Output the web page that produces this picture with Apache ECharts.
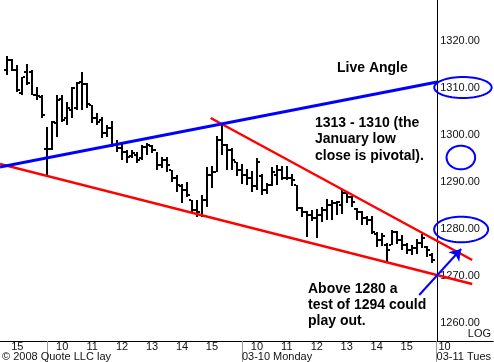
<!DOCTYPE html>
<html><head><meta charset="utf-8">
<script src="https://cdn.jsdelivr.net/npm/echarts@6/dist/echarts.min.js"></script>
<style>html,body{margin:0;padding:0;background:#fff}#c{width:494px;height:362px}</style>
</head><body><div id="c"></div>
<script>
// ---- sessions (10-minute bars) ----
const sessionDay = [-1, 0, 1];               // trading-day index relative to 03-07
const sessionFirstBar = ['14:40', '09:30', '09:30'];
const sessionBarCount = [8, 39, 39];

// ---- OHLC values ----
const barOpen = [
  1313.7,1315.9,1313.7,1308.8,1313.3,1313.3,1308.4,1308.0,
  1296.9,1296.9,1302.5,1307.6,1303.5,1305.2,1305.6,1311.2,1310.7,1306.3,1303.5,1303.1,1300.3,1301.4,1297.8,1297.1,1296.3,1295.4,1295.6,1295.0,1297.3,1297.6,1296.7,1293.5,1294.6,1292.4,1290.7,1289.0,1288.2,1286.1,1283.9,1282.9,1286.1,1291.4,1292.0,1298.8,1297.8,1296.7,1294.2,
  1292.4,1291.4,1290.7,1289.0,1291.2,1288.2,1289.3,1291.4,1292.4,1290.7,1290.7,1289.3,1284.4,1283.5,1282.9,1282.2,1282.9,1283.9,1285.0,1285.4,1285.0,1287.6,1286.7,1284.2,1283.5,1282.2,1281.8,1278.8,1277.6,1276.5,1276.5,1279.3,1277.6,1276.5,1275.4,1275.9,1276.9,1276.1,1274.4
];
const barHigh = [
  1316.7,1316.1,1314.8,1312.2,1315.0,1313.7,1310.1,1308.4,
  1301.6,1302.9,1308.4,1308.4,1306.9,1310.1,1311.2,1313.3,1311.0,1306.3,1304.6,1303.7,1302.0,1302.9,1298.8,1298.2,1296.7,1296.7,1296.3,1297.8,1298.2,1297.8,1296.3,1295.2,1295.2,1292.4,1291.4,1289.5,1289.9,1286.1,1286.1,1287.1,1293.1,1293.3,1299.7,1302.5,1298.0,1297.1,1294.2,
  1293.7,1292.7,1292.2,1295.0,1291.6,1289.7,1293.1,1293.5,1293.3,1293.3,1291.6,1289.3,1284.6,1283.7,1283.9,1284.2,1284.6,1286.3,1286.1,1285.9,1288.2,1287.8,1286.9,1284.4,1283.7,1282.6,1282.6,1279.3,1279.0,1276.9,1279.7,1279.5,1278.6,1276.9,1276.5,1277.8,1278.8,1276.3,1274.8
];
const barLow = [
  1312.7,1313.5,1309.0,1308.4,1310.5,1308.4,1307.3,1303.5,
  1291.2,1296.7,1299.5,1302.7,1302.0,1303.5,1305.2,1305.2,1305.6,1302.5,1302.0,1299.3,1299.5,1297.4,1296.3,1294.6,1293.9,1295.0,1293.9,1294.6,1295.6,1296.1,1292.4,1292.9,1292.0,1289.9,1287.8,1285.4,1286.7,1283.3,1282.5,1282.5,1284.6,1288.6,1292.0,1295.6,1292.4,1292.4,1291.2,
  1289.5,1289.3,1287.8,1288.2,1287.1,1287.3,1289.0,1289.3,1290.3,1290.3,1289.0,1283.7,1282.5,1278.2,1281.6,1278.0,1281.4,1281.8,1281.8,1282.9,1283.1,1285.4,1284.6,1281.8,1280.7,1280.7,1278.8,1276.1,1276.3,1272.9,1276.5,1276.7,1275.4,1274.6,1274.4,1274.6,1275.9,1273.9,1272.7
];
const barClose = [
  1315.9,1313.7,1309.5,1312.2,1311.0,1308.4,1308.2,1304.2,
  1296.9,1302.7,1307.3,1303.1,1305.6,1309.9,1311.0,1310.7,1306.5,1303.5,1302.7,1300.3,1301.4,1297.8,1297.1,1296.3,1295.2,1296.1,1294.6,1297.3,1297.8,1296.7,1293.5,1294.6,1293.5,1290.7,1289.3,1288.2,1287.1,1283.9,1283.5,1286.1,1291.4,1292.0,1298.8,1297.8,1296.7,1294.6,1292.4,
  1291.4,1290.7,1289.0,1294.2,1288.2,1289.3,1292.0,1292.4,1290.7,1290.7,1290.3,1284.4,1283.5,1282.9,1282.2,1282.9,1283.9,1285.0,1285.4,1285.6,1287.6,1286.7,1285.6,1283.5,1282.2,1281.8,1279.3,1277.6,1278.4,1275.4,1279.3,1277.6,1276.5,1275.4,1275.9,1276.9,1278.0,1275.4,1273.3
];

// ---- axis labels ----
const priceTicks = [1260, 1270, 1280, 1290, 1300, 1310, 1320];
const hourLabelDay  = [-1, 0, 0, 0, 0, 0, 0, 1, 1, 1, 1, 1, 1, 2];
const hourLabelHour = [15, 10, 11, 12, 13, 14, 15, 10, 11, 12, 13, 14, 15, 10];
const dayLabelDay  = [1, 2];
const dayLabelText = ['03-10 Monday', '03-11 Tues'];
const daySeparatorDay = [0, 1, 2];

// ---- trend lines (x in trading hours from 03-07 open, y price) ----
const blueLineX = [-1.577, 13.023], blueLineP = [1293.09, 1311.17];
const redLowX = [-1.577, 14.19],   redLowP = [1293.73, 1268.19];
const redUpX = [5.457, 14.19],     redUpP = [1303.51, 1273.30];
const arrowX = [12.42, 13.82],     arrowP = [1265.85, 1275.64];
const circleX = [13.88, 13.81, 13.82], circleP = [1310.0, 1295.1, 1279.8];
const circleRadii = [[28.7, 10.5], [14.3, 11.8], [27, 12.8]]; // pixel sizes (style)

const HPD = 6.5;
const pos = (day, minutes) => day * HPD + (minutes - 570) / 60;
const toMin = s => { const a = s.split(':').map(Number); return a[0] * 60 + a[1]; };

const barData = [];
let k = 0;
sessionDay.forEach((d, s) => {
  const m0 = toMin(sessionFirstBar[s]);
  for (let i = 0; i < sessionBarCount[s]; i++, k++) {
    barData.push([pos(d, m0 + 10 * i), barOpen[k], barHigh[k], barLow[k], barClose[k]]);
  }
});
const hourVals = hourLabelDay.map((d, i) => pos(d, hourLabelHour[i] * 60));
const dayVals = dayLabelDay.map(d => pos(d, 570));
const sepVals = daySeparatorDay.map(d => pos(d, 570));

const FONT = "'Liberation Sans', Arial, sans-serif";
const X_MIN = -1.5767, X_MAX = 14.89;

const chart = echarts.init(document.getElementById('c'));
chart.setOption({
  animation: false,
  backgroundColor: '#fff',
  grid: { left: 0, right: 0, top: 0, bottom: 21, containLabel: false },
  xAxis: [{
    type: 'value', min: X_MIN, max: X_MAX, splitLine: { show: false },
    axisLine: { show: true, onZero: false, lineStyle: { color: '#000', width: 1 } },
    axisTick: { show: true, customValues: sepVals, length: 21, lineStyle: { color: '#999', width: 1 } },
    axisLabel: {
      customValues: hourVals, margin: 0, fontSize: 11, fontFamily: FONT, color: '#111',
      formatter: function (v) {
        let i = hourVals.findIndex(h => Math.abs(h - v) < 1e-6);
        if (i < 0) return '';
        const t = String(hourLabelHour[i]);
        return hourLabelDay[i] === 2 ? '{s|' + t + '}' : t;
      },
      rich: { s: { fontSize: 11, fontFamily: FONT, color: '#111', padding: [0, 14, 0, 0] } }
    }
  }, {
    type: 'value', min: X_MIN, max: X_MAX, position: 'bottom', splitLine: { show: false },
    axisLine: { show: false, onZero: false }, axisTick: { show: false },
    axisLabel: {
      customValues: dayVals, margin: 10, fontSize: 11, fontFamily: FONT, color: '#111', align: 'left',
      formatter: function (v) {
        let i = dayVals.findIndex(h => Math.abs(h - v) < 1e-6);
        return i < 0 ? '' : dayLabelText[i];
      }
    }
  }],
  yAxis: {
    type: 'value', position: 'right', offset: -56, min: 1256.07, max: 1328.62,
    splitLine: { show: false },
    axisLine: { show: true, onZero: false, lineStyle: { color: '#000', width: 1 } },
    axisTick: { show: false },
    axisLabel: {
      customValues: priceTicks, inside: false, margin: 3, fontSize: 11, fontFamily: FONT, color: '#111',
      align: 'left', formatter: v => v.toFixed(2)
    }
  },
  series: [{
    type: 'custom', z: 2, clip: false,
    encode: { x: 0, y: [1, 2, 3, 4] },
    data: barData,
    renderItem: function (params, api) {
      const x = api.value(0);
      const pO = api.coord([x, api.value(1)]);
      const pH = api.coord([x, api.value(2)]);
      const pL = api.coord([x, api.value(3)]);
      const pC = api.coord([x, api.value(4)]);
      const cx = Math.round(pH[0]);
      const st = { fill: '#000' };
      const yh = Math.round(pH[1]), yl = Math.round(pL[1]);
      return { type: 'group', children: [
        { type: 'rect', shape: { x: cx - 1, y: yh, width: 2, height: Math.max(1, yl - yh) }, style: st },
        { type: 'rect', shape: { x: cx - 3, y: Math.round(pO[1]) - 1, width: 2, height: 2 }, style: st },
        { type: 'rect', shape: { x: cx + 1, y: Math.round(pC[1]) - 1, width: 2, height: 2 }, style: st }
      ] };
    }
  }, {
    type: 'line', z: 3, showSymbol: false, silent: true,
    data: redLowX.map((x, i) => [x, redLowP[i]]),
    lineStyle: { color: '#ff0000', width: 2.5 }
  }, {
    type: 'line', z: 3, showSymbol: false, silent: true,
    data: redUpX.map((x, i) => [x, redUpP[i]]),
    lineStyle: { color: '#ff0000', width: 2.5 }
  }, {
    type: 'line', z: 4, showSymbol: false, silent: true,
    data: blueLineX.map((x, i) => [x, blueLineP[i]]),
    lineStyle: { color: '#0000ff', width: 3 }
  }, {
    type: 'lines', coordinateSystem: 'cartesian2d', z: 5, silent: true,
    symbol: ['none', 'arrow'], symbolSize: [9, 11],
    lineStyle: { color: '#0000ff', width: 2, opacity: 1 },
    data: [{ coords: arrowX.map((x, i) => [x, arrowP[i]]) }]
  }, {
    type: 'custom', z: 5, clip: false, silent: true,
    data: circleX.map((x, i) => [x, circleP[i]]),
    renderItem: function (params, api) {
      const c = api.coord([api.value(0), api.value(1)]);
      const r = circleRadii[params.dataIndex];
      const pts = [];
      for (let a = 0; a < 64; a++) {
        const t = a / 64 * Math.PI * 2;
        pts.push([c[0] + r[0] * Math.cos(t), c[1] + r[1] * Math.sin(t)]);
      }
      return { type: 'polygon', shape: { points: pts }, style: { fill: 'none', stroke: '#0000ff', lineWidth: 2 } };
    }
  }],
  graphic: [
    { type: 'text', x: 337, y: 68.5, z: 10, style: { text: 'Live Angle', font: 'bold 14px ' + FONT, fill: '#000', align: 'left', verticalAlign: 'middle' } },
    { type: 'text', x: 315, y: 114.5, z: 10, style: { text: '1313 - 1310 (the\nJanuary low\nclose is pivotal).', font: 'bold 14px ' + FONT, lineHeight: 16.5, fill: '#000', align: 'left', verticalAlign: 'top' } },
    { type: 'text', x: 308, y: 280.8, z: 10, style: { text: 'Above 1280 a\ntest of 1294 could\nplay out.', font: 'bold 14px ' + FONT, lineHeight: 16, fill: '#000', align: 'left', verticalAlign: 'top' } },
    { type: 'text', x: 491, y: 334, z: 10, style: { text: 'LOG', font: '11px ' + FONT, fill: '#111', align: 'right', verticalAlign: 'middle' } },
    { type: 'text', x: 2, y: 356.7, z: 10, style: { text: '© 2008 Quote LLC lay', font: '11px ' + FONT, fill: '#111', align: 'left', verticalAlign: 'middle' } }
  ]
});
</script>
</body></html>
